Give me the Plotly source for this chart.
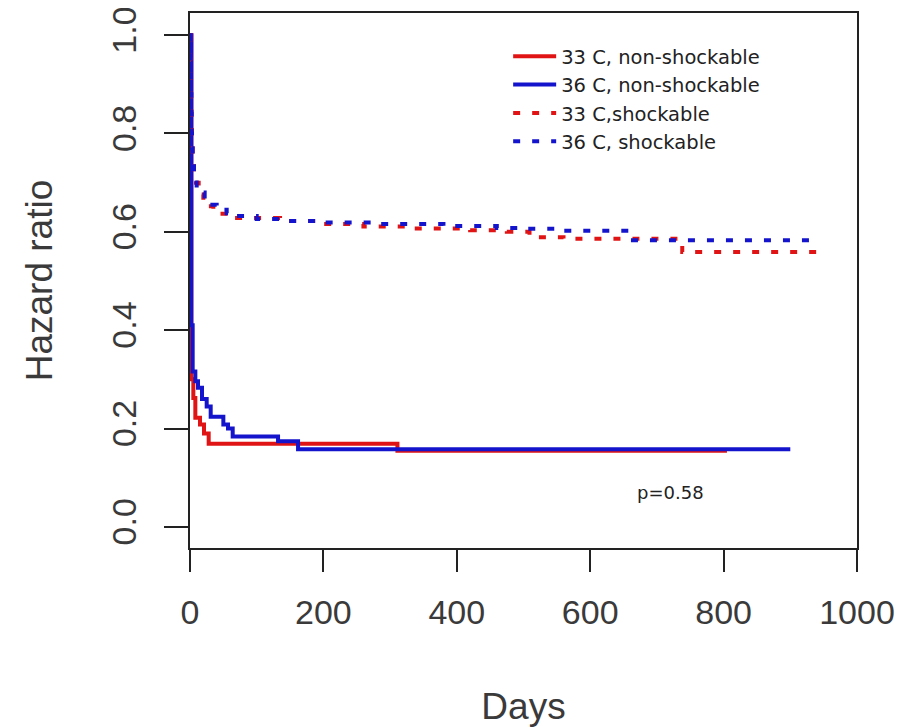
import plotly.graph_objects as go

# ---- data ----
red_solid_x = [0, 2, 5, 8, 15, 21, 28, 311, 805]
red_solid_y = [1.0, 0.30, 0.262, 0.222, 0.208, 0.19, 0.169, 0.155, 0.155]

blue_solid_x = [0, 2, 4, 8, 12, 18, 25, 31, 50, 57, 64, 132, 162, 900]
blue_solid_y = [1.0, 0.41, 0.316, 0.296, 0.283, 0.26, 0.245, 0.224, 0.208, 0.2, 0.184, 0.174, 0.158, 0.158]

red_dot_x = [0, 0.5, 1, 1.5, 2, 3, 4, 6, 9, 13, 20, 26, 35, 45, 62, 135, 200, 260, 330, 420, 475, 509, 560, 738, 946]
red_dot_y = [1.0, 0.95, 0.90, 0.86, 0.82, 0.78, 0.75, 0.72, 0.70, 0.676, 0.66, 0.652, 0.645, 0.637, 0.628, 0.622,
             0.616, 0.611, 0.607, 0.603, 0.60, 0.589, 0.586, 0.559, 0.559]

blue_dot_x = [0, 0.5, 1, 1.5, 2, 2.5, 3, 4, 6, 10, 15, 22, 30, 40, 55, 70, 100, 140, 200, 280, 380, 460, 504, 560, 659, 940]
blue_dot_y = [1.0, 0.97, 0.93, 0.88, 0.84, 0.80, 0.77, 0.74, 0.71, 0.69, 0.68, 0.665, 0.655, 0.645, 0.638, 0.632,
              0.626, 0.622, 0.619, 0.616, 0.612, 0.608, 0.606, 0.602, 0.583, 0.583]

series_names = ["33 C, non-shockable", "36 C, non-shockable", "33 C,shockable", "36 C, shockable"]

x_ticks = [0, 200, 400, 600, 800, 1000]
y_ticks = [0.0, 0.2, 0.4, 0.6, 0.8, 1.0]
y_tick_text = ["0.0", "0.2", "0.4", "0.6", "0.8", "1.0"]

p_text = "p=0.58"
p_pos = (721, 0.069)

RED = "#e01414"
BLUE = "#1414cc"
FONT = "Liberation Sans, Arial, sans-serif"
TXT = "#3a3a3a"

fig = go.Figure()
fig.add_trace(go.Scatter(x=red_solid_x, y=red_solid_y, mode="lines", line_shape="hv",
                         line=dict(color=RED, width=4), name=series_names[0]))
fig.add_trace(go.Scatter(x=blue_solid_x, y=blue_solid_y, mode="lines", line_shape="hv",
                         line=dict(color=BLUE, width=4), name=series_names[1]))
fig.add_trace(go.Scatter(x=red_dot_x, y=red_dot_y, mode="lines", line_shape="hv",
                         line=dict(color=RED, width=4, dash="7px,12px"), name=series_names[2]))
fig.add_trace(go.Scatter(x=blue_dot_x, y=blue_dot_y, mode="lines", line_shape="hv",
                         line=dict(color=BLUE, width=4, dash="7px,12px"), name=series_names[3]))

fig.add_annotation(x=p_pos[0], y=p_pos[1], text=p_text, showarrow=False,
                   font=dict(family="DejaVu Sans", size=18, color="#222"))

axis_common = dict(showline=True, linecolor="#222", linewidth=2, mirror=True, automargin=False,
                   ticks="outside", tickcolor="#222", tickwidth=2, showgrid=False, zeroline=False,
                   ticklabeloverflow="allow",
                   tickfont=dict(family=FONT, size=34, color=TXT))

fig.update_xaxes(range=[0, 1000], tickvals=x_ticks, ticklen=22, ticklabelstandoff=11,
                 title=dict(text="Days", font=dict(family=FONT, size=37, color=TXT), standoff=70),
                 **axis_common)
fig.update_yaxes(range=[-0.043, 1.045], tickvals=y_ticks, ticktext=y_tick_text, tickangle=-90,
                 ticklen=24, ticklabelstandoff=14,
                 title=dict(text="Hazard ratio", font=dict(family=FONT, size=37, color=TXT), standoff=41),
                 **axis_common)

# the page places the figure 8px in from the top-left corner
fig.update_layout(
    width=904, height=719,
    margin=dict(l=182, r=55, t=5, b=179, autoexpand=False),
    plot_bgcolor="white", paper_bgcolor="white",
    legend=dict(x=0.477, y=0.955, xanchor="left", yanchor="top", bgcolor="rgba(0,0,0,0)",
                itemwidth=43,
                font=dict(family="DejaVu Sans", size=19.5, color="#222"), tracegroupgap=0),
    showlegend=True,
)

fig.write_html("out.html")
